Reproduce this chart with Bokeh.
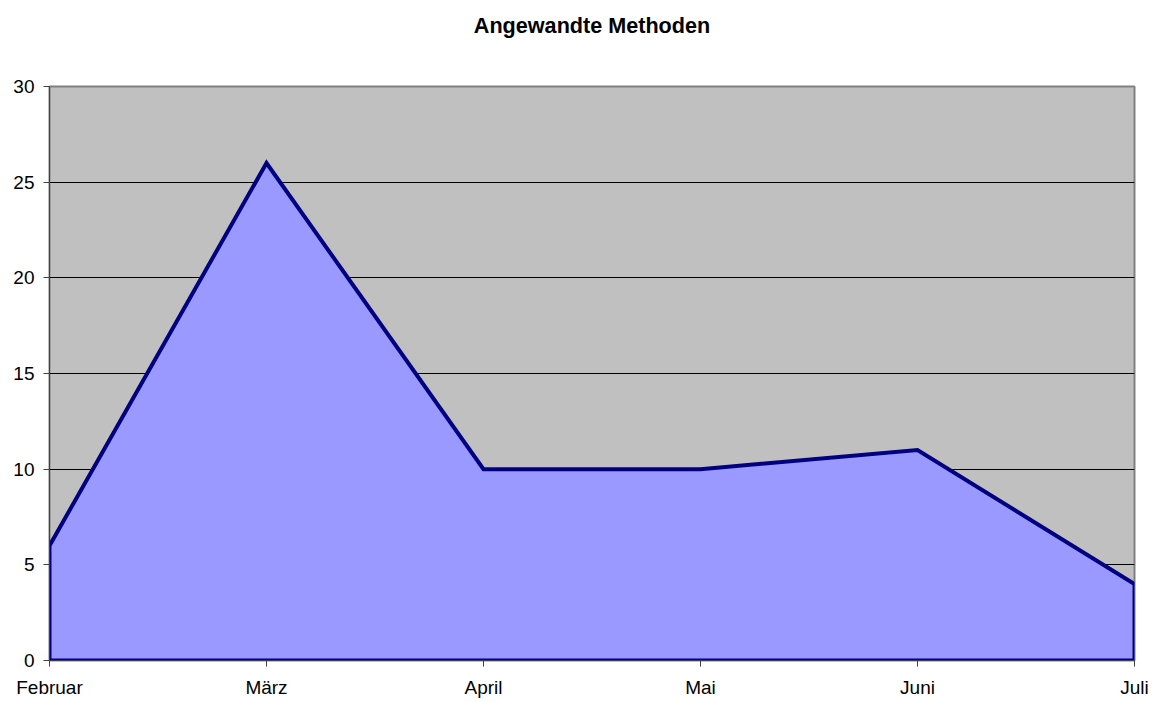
from bokeh.plotting import figure
from bokeh.embed import file_html
from bokeh.resources import INLINE
from bokeh.models import Range1d, FixedTicker, Title

months = ["Februar", "März", "April", "Mai", "Juni", "Juli"]
values = [6, 26, 10, 10, 11, 4]
y_ticks = [0, 5, 10, 15, 20, 25, 30]
title_text = "Angewandte Methoden"

xs = list(range(len(months)))

W, H = 1150, 700
B_LEFT, B_RIGHT, B_TOP, B_BOTTOM = 49, 16, 86, 40

p = figure(width=W, height=H, output_backend="svg", toolbar_location=None,
           x_range=Range1d(0, len(months) - 1), y_range=Range1d(0, 30),
           min_border_left=B_LEFT, min_border_right=B_RIGHT,
           min_border_top=B_TOP, min_border_bottom=B_BOTTOM)

p.title.text = ""

# invisible spacer (added first -> nearest the plot area), then the chart title
spacer = Title(text="\u200b", text_font_size="1px", standoff=36)
p.add_layout(spacer, "above")

chart_title = Title(text=title_text, align="center", text_font="Liberation Sans",
                    text_font_size="21.6px", text_font_style="bold",
                    text_color="black", standoff=20, offset=9)
p.add_layout(chart_title, "above")

p.border_fill_color = "white"
p.background_fill_color = "#C0C0C0"
p.outline_line_color = "#808080"
p.outline_line_width = 2

# area polygon
px = [xs[0]] + xs + [xs[-1]]
py = [0] + values + [0]
p.patch(px, py, fill_color="#9999FF", line_color="#000080", line_width=4, line_join="miter")

p.xgrid.visible = False
p.ygrid.ticker = FixedTicker(ticks=y_ticks)
p.ygrid.grid_line_color = "black"
p.ygrid.grid_line_width = 1

p.yaxis.ticker = FixedTicker(ticks=y_ticks)
p.xaxis.ticker = FixedTicker(ticks=xs)
p.xaxis.major_label_overrides = {i: m for i, m in enumerate(months)}

for ax in (p.xaxis[0], p.yaxis[0]):
    ax.axis_line_color = "#404040"
    ax.axis_line_width = 1
    ax.major_tick_line_color = "#404040"
    ax.major_tick_in = 0
    ax.major_tick_out = 6
    ax.minor_tick_line_color = None
    ax.major_label_text_font = "Liberation Sans"
    ax.major_label_text_font_size = "19px"
    ax.major_label_text_color = "black"
p.yaxis.major_label_standoff = 9
p.xaxis.major_label_standoff = 10

open("out.html", "w").write(file_html(p, INLINE))
